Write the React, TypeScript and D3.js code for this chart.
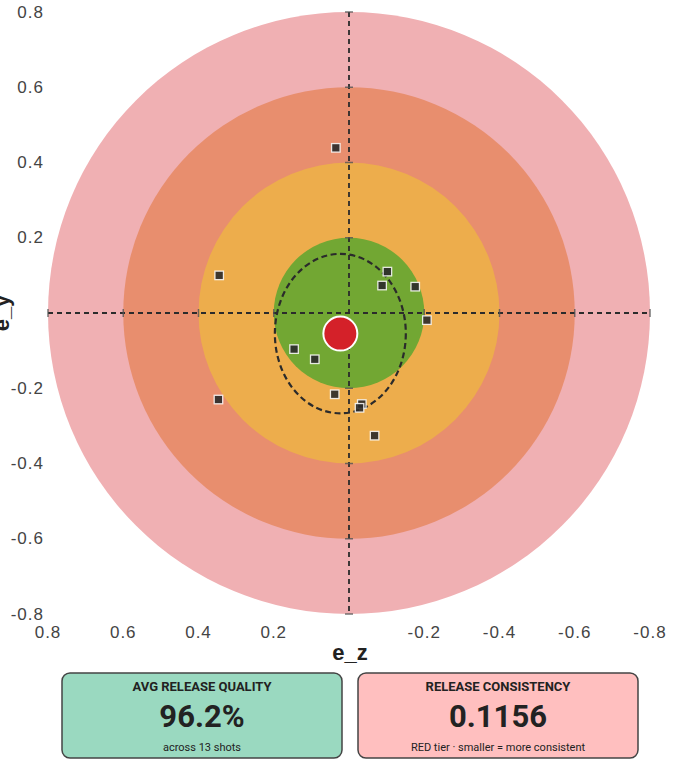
import React from 'react';
import * as d3 from 'd3';

// release error per shot
const shotZ = [0.035, 0.345, -0.102, -0.088, -0.176, -0.207, 0.146, 0.091, 0.038, -0.034, -0.028, 0.347, -0.068];
const shotY = [0.439, 0.1, 0.11, 0.073, 0.07, -0.019, -0.096, -0.123, -0.216, -0.242, -0.252, -0.23, -0.326];

const ringRadii = [0.8, 0.6, 0.4, 0.2];
const ringColors = ['#f0b0b3', '#e88e6e', '#edad4c', '#72a733'];
const tickValues = [0.8, 0.6, 0.4, 0.2, -0.2, -0.4, -0.6, -0.8];

const cards = [
  { title: 'AVG RELEASE QUALITY', value: '96.2%', note: 'across 13 shots', fill: '#9ad9c0' },
  { title: 'RELEASE CONSISTENCY', value: '0.1156', note: 'RED tier · smaller = more consistent', fill: '#ffbfbf' },
];

const W = 700;
const H = 773;
const tickFont = '"Liberation Sans", Arial, Helvetica, sans-serif';
const cardFont = 'Roboto, "Noto Sans", sans-serif';

export default function App() {
  const x = d3.scaleLinear().domain([0.8, -0.8]).range([48, 650]);
  const y = d3.scaleLinear().domain([0.8, -0.8]).range([12, 614]);
  const px = (r: number) => Math.abs(x(r) - x(0));

  const meanZ = d3.mean(shotZ) as number;
  const meanY = d3.mean(shotY) as number;
  const sdZ = d3.deviation(shotZ) as number;
  const sdY = d3.deviation(shotY) as number;

  const cap = 4;
  const markSize = 8.5;

  return (
    <svg width={W} height={H} style={{ position: 'absolute', left: 0, top: 0, background: '#fff' }}>
      {/* target rings */}
      {ringRadii.map((r, i) => (
        <circle key={r} cx={x(0)} cy={y(0)} r={px(r)} fill={ringColors[i]} />
      ))}

      {/* crosshair */}
      <g stroke="#2b2b2b" strokeWidth={1.8} strokeDasharray="5,4">
        <line x1={x(0.8)} x2={x(-0.8)} y1={y(0)} y2={y(0)} />
        <line x1={x(0)} x2={x(0)} y1={y(0.8)} y2={y(-0.8)} />
      </g>
      <g stroke="#555" strokeWidth={1.5} opacity={0.8}>
        {ringRadii.flatMap((r) => [r, -r]).map((r) => (
          <g key={r}>
            <line x1={x(r)} x2={x(r)} y1={y(0) - cap} y2={y(0) + cap} />
            <line x1={x(0) - cap} x2={x(0) + cap} y1={y(r)} y2={y(r)} />
          </g>
        ))}
      </g>

      {/* 1-sd ellipse */}
      <ellipse
        cx={x(meanZ)}
        cy={y(meanY)}
        rx={px(sdZ)}
        ry={px(sdY)}
        fill="none"
        stroke="#2b2b2b"
        strokeWidth={2.2}
        strokeDasharray="6,3.5"
      />

      {/* shots */}
      {shotZ.map((z, i) => (
        <rect
          key={i}
          x={x(z) - markSize / 2}
          y={y(shotY[i]) - markSize / 2}
          width={markSize}
          height={markSize}
          fill="#2a2a2a"
          fillOpacity={0.9}
          stroke="#fff"
          strokeOpacity={0.85}
          strokeWidth={1.3}
        />
      ))}

      {/* mean */}
      <circle cx={x(meanZ)} cy={y(meanY)} r={17} fill="#d42129" stroke="#fff" strokeWidth={2} />

      {/* axes */}
      <g fontFamily={tickFont} fontSize={17} fill="#444" letterSpacing={1}>
        {tickValues.map((v) => (
          <text key={'y' + v} x={44} y={y(v)} textAnchor="end" dominantBaseline="central">
            {String(v)}
          </text>
        ))}
        {tickValues.map((v) => (
          <text key={'x' + v} x={x(v)} y={632} textAnchor="middle" dominantBaseline="central">
            {String(v)}
          </text>
        ))}
      </g>
      <text x={350} y={660} textAnchor="middle" fontFamily={tickFont} fontWeight="bold" fontSize={22} fill="#222">
        e_z
      </text>
      <text
        transform={`translate(8.5,${y(0)}) rotate(-90)`}
        textAnchor="middle"
        fontFamily={tickFont}
        fontWeight="bold"
        fontSize={22}
        fill="#222"
      >
        e_y
      </text>

      {/* summary cards */}
      {cards.map((c, i) => {
        const left = 62 + i * 296;
        const cx = left + 140;
        return (
          <g key={c.title} fontFamily={cardFont} fill="#222" textAnchor="middle">
            <rect x={left} y={673} width={280} height={85} rx={8} fill={c.fill} stroke="#444" strokeWidth={1.5} />
            <text x={cx} y={690.5} fontSize={13} fontWeight="bold">{c.title}</text>
            <text x={cx} y={727} fontSize={31} fontWeight="bold">{c.value}</text>
            <text x={cx} y={751} fontSize={11}>{c.note}</text>
          </g>
        );
      })}
    </svg>
  );
}
